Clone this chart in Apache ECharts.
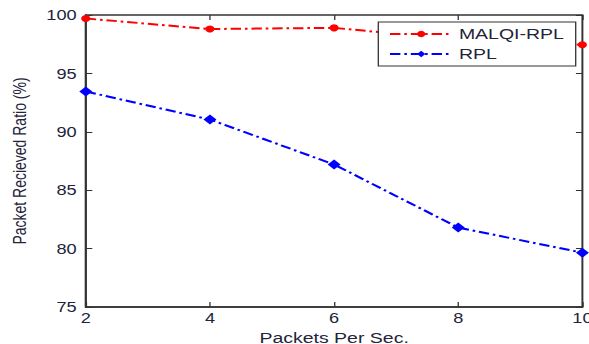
<!DOCTYPE html>
<html>
<head>
<meta charset="utf-8">
<script src="https://cdn.jsdelivr.net/npm/echarts@6/dist/echarts.min.js"></script>
<style>
    html, body {
        margin: 0;
        padding: 0;
        background: #fff;
        overflow: hidden;
    }
    /* the original figure is stretched sideways, so the chart is too */
    #main {
        width: 453px;
        height: 344px;
        transform: scaleX(1.3);
        transform-origin: 0 0;
    }
</style>
</head>
<body>
<div id="main"></div>
<script>
    // data
    var packetsPerSec = [2, 4, 6, 8, 10];
    var malqiRpl = [99.7, 98.8, 98.9, 97.9, 97.45];
    var rpl = [93.45, 91.05, 87.2, 81.8, 79.65];
    var yTicks = [75, 80, 85, 90, 95, 100];

    function pairs(xs, ys) {
        var out = [];
        for (var i = 0; i < xs.length; i++) {
            out.push([xs[i], ys[i]]);
        }
        return out;
    }

    var textColor = '#23233a';
    var axisColor = '#333';
    var fontName = 'Liberation Sans';
    var dashDot = [8, 3, 2, 3];

    var myChart = echarts.init(document.getElementById('main'), null, {renderer: 'svg'});

    var option = {
        animation: false,
        grid: {
            left: 66,
            right: 5,
            top: 15,
            bottom: 37,
            outerBoundsMode: 'none',
            show: true,
            borderColor: axisColor,
            borderWidth: 1.5
        },
        legend: {
            orient: 'vertical',
            left: 291,
            top: 22,
            padding: [3, 9, 3, 8],
            itemWidth: 48,
            itemHeight: 8,
            itemGap: 2,
            backgroundColor: '#fff',
            borderColor: axisColor,
            borderWidth: 1,
            borderRadius: 0,
            textStyle: {
                fontFamily: fontName,
                fontSize: 15,
                lineHeight: 18,
                color: textColor
            },
            data: ['MALQI-RPL', 'RPL']
        },
        xAxis: [{
            type: 'value',
            min: 2,
            max: 10,
            interval: 2,
            name: 'Packets Per Sec.',
            nameLocation: 'middle',
            nameGap: 15,
            nameTextStyle: {fontFamily: fontName, fontSize: 15, color: textColor},
            axisLine: {show: true, lineStyle: {color: axisColor, width: 1.5}},
            axisTick: {show: true, inside: true, length: 5, lineStyle: {color: axisColor}},
            axisLabel: {fontFamily: fontName, fontSize: 14, color: textColor, margin: 4},
            splitLine: {show: false}
        }, {
            type: 'value',
            position: 'top',
            min: 2,
            max: 10,
            interval: 2,
            axisLine: {show: false},
            axisTick: {show: true, inside: true, length: 5, lineStyle: {color: axisColor}},
            axisLabel: {show: false},
            splitLine: {show: false}
        }],
        yAxis: [{
            type: 'value',
            min: yTicks[0],
            max: yTicks[yTicks.length - 1],
            interval: 5,
            name: 'Packet Recieved Ratio (%)',
            nameLocation: 'middle',
            nameGap: 44,
            nameTextStyle: {fontFamily: fontName, fontSize: 14, color: textColor},
            axisLine: {show: true, lineStyle: {color: axisColor, width: 1.5}},
            axisTick: {show: true, inside: true, length: 5, lineStyle: {color: axisColor}},
            axisLabel: {fontFamily: fontName, fontSize: 14, color: textColor, margin: 7},
            splitLine: {show: false}
        }, {
            type: 'value',
            position: 'right',
            min: yTicks[0],
            max: yTicks[yTicks.length - 1],
            interval: 5,
            axisLine: {show: false},
            axisTick: {show: true, inside: true, length: 5, lineStyle: {color: axisColor}},
            axisLabel: {show: false},
            splitLine: {show: false}
        }],
        series: [{
            name: 'MALQI-RPL',
            type: 'line',
            data: pairs(packetsPerSec, malqiRpl),
            symbol: 'circle',
            symbolSize: 7,
            itemStyle: {color: '#ff0000'},
            lineStyle: {color: '#ff0000', width: 2, type: dashDot},
            z: 3
        }, {
            name: 'RPL',
            type: 'line',
            data: pairs(packetsPerSec, rpl),
            symbol: 'diamond',
            symbolSize: [10, 10],
            itemStyle: {color: '#0000ff'},
            lineStyle: {color: '#0000ff', width: 2, type: dashDot},
            z: 3
        }]
    };

    myChart.setOption(option);
</script>
</body>
</html>
